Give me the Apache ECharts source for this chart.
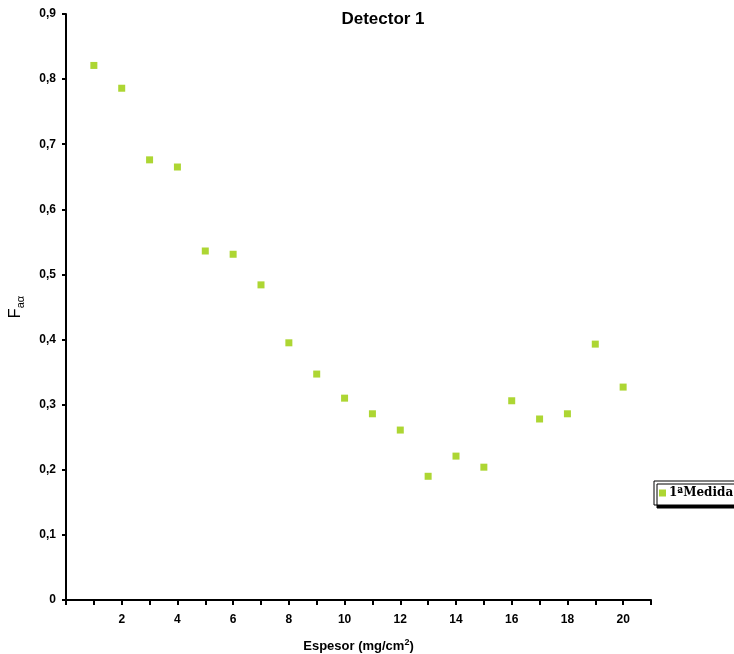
<!DOCTYPE html>
<html>
<head>
<meta charset="utf-8">
<script src="https://cdn.jsdelivr.net/npm/echarts@6/dist/echarts.min.js"></script>
<style>
	html, body { margin: 0; padding: 0; background: #fff; }
	#chart { width: 734px; height: 654px; }
</style>
</head>
<body>
<div id="chart"></div>
<script>
	// espesor (mg/cm2) y valores medidos
	const espesor = [1, 2, 3, 4, 5, 6, 7, 8, 9, 10, 11, 12, 13, 14, 15, 16, 17, 18, 19, 20];
	const medida1 = [0.821, 0.786, 0.676, 0.665, 0.536, 0.531, 0.484, 0.395, 0.347, 0.310,
		0.286, 0.261, 0.190, 0.221, 0.204, 0.306, 0.278, 0.286, 0.393, 0.327];
	const xTicks = [2, 4, 6, 8, 10, 12, 14, 16, 18, 20];

	const chart = echarts.init(document.getElementById('chart'));
	const axisFont = { fontFamily: 'Arial, Liberation Sans', fontWeight: 'bold', fontSize: 12, color: '#000' };

	const option = {
		animation: false,
		title: {
			text: 'Detector 1',
			left: 378,
			textAlign: 'center',
			top: 6,
			textStyle: { fontFamily: 'Arial, Liberation Sans', fontWeight: 'bold', fontSize: 17, color: '#000' }
		},
		grid: { left: 66, right: 83, top: 14, bottom: 54, outerBoundsMode: 'none' },
		legend: {
			left: 654,
			top: 481,
			orient: 'vertical',
			padding: [6, 8, 6, 5],
			itemWidth: 7,
			itemHeight: 7,
			itemGap: 4,
			borderColor: '#000',
			borderWidth: 1,
			backgroundColor: '#fff',
			shadowColor: '#000',
			shadowOffsetX: 3,
			shadowOffsetY: 3,
			textStyle: { fontFamily: 'DejaVu Serif, Liberation Serif', fontWeight: 'bold', fontSize: 12, color: '#000', padding: [0, 0, 0, -2] },
			data: [{ name: '1ªMedida', icon: 'rect' }]
		},
		xAxis: {
			type: 'value',
			min: 0,
			max: 21,
			interval: 1,
			name: 'Espesor (mg/cm{sup|2})',
			nameLocation: 'middle',
			nameGap: 38,
			nameTextStyle: {
				fontFamily: 'Arial, Liberation Sans', fontWeight: 'bold', fontSize: 13, color: '#000',
				rich: { sup: { fontFamily: 'Arial, Liberation Sans', fontSize: 9, fontWeight: 'bold', verticalAlign: 'top', padding: [0, 0, 8, 0] } }
			},
			axisLine: { lineStyle: { color: '#000', width: 2 } },
			axisTick: { lineStyle: { color: '#000', width: 2 }, length: 5 },
			splitLine: { show: false },
			axisLabel: Object.assign({}, axisFont, {
				margin: 14,
				formatter: v => xTicks.includes(v) ? String(v) : ''
			})
		},
		yAxis: {
			type: 'value',
			min: 0,
			max: 0.9,
			interval: 0.1,
			name: 'F{sub|aα}',
			nameLocation: 'middle',
			nameRotate: 90,
			nameGap: 40,
			nameTextStyle: {
				fontFamily: 'Arial, Liberation Sans', fontSize: 16, color: '#000',
				rich: { sub: { fontFamily: 'Arial, Liberation Sans', fontSize: 11, padding: [9, 0, 0, 0] } }
			},
			axisLine: { show: true, lineStyle: { color: '#000', width: 2 } },
			axisTick: { show: true, lineStyle: { color: '#000', width: 2 }, length: 4 },
			splitLine: { show: false },
			axisLabel: Object.assign({}, axisFont, {
				margin: 10,
				formatter: v => v === 0 ? '0' : v.toFixed(1).replace('.', ',')
			})
		},
		series: [{
			name: '1ªMedida',
			type: 'scatter',
			symbol: 'rect',
			symbolSize: 7,
			itemStyle: { color: '#99cc00' },
			data: espesor.map((x, i) => [x, medida1[i]])
		}]
	};

	chart.setOption(option);
</script>
</body>
</html>
